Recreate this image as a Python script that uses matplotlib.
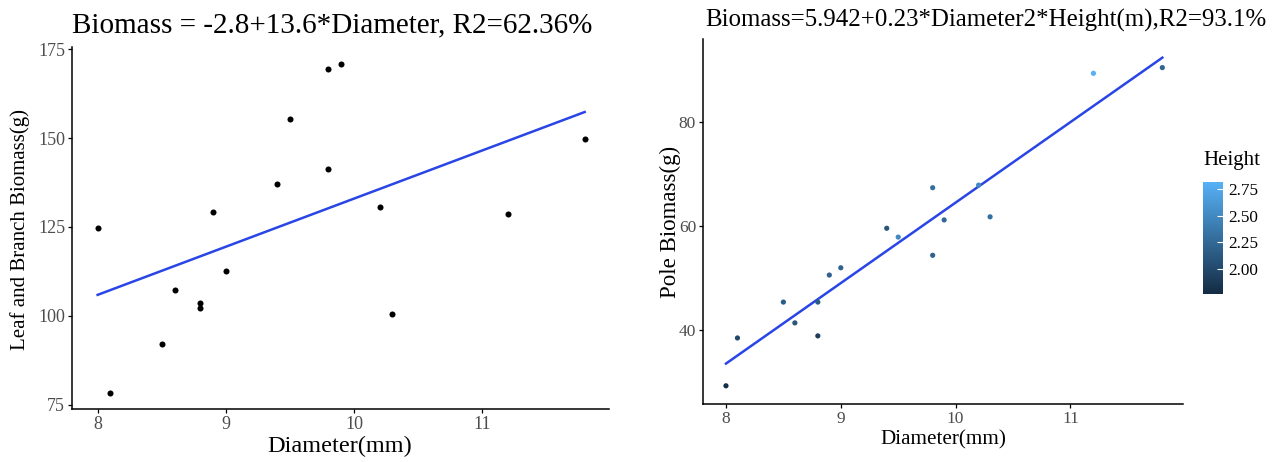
import numpy as np
import matplotlib
matplotlib.use("Agg")
import matplotlib.pyplot as plt
from matplotlib.colors import LinearSegmentedColormap

plt.rcParams['font.family'] = ['Liberation Serif', 'DejaVu Serif']

# --- left panel: leaf and branch biomass ---
diam_left = [8.0, 8.1, 8.5, 8.6, 8.8, 8.8, 8.9, 9.0, 9.4, 9.5, 9.8, 9.9, 9.8, 10.2, 10.3, 11.2, 11.8]
leaf_biomass = [124.7, 78.2, 92.0, 107.2, 103.6, 102.1, 129.1, 112.6, 137.1, 155.3,
                169.3, 170.9, 141.4, 130.6, 100.6, 128.7, 149.7]

# --- right panel: pole biomass coloured by height ---
diam_right = [8.0, 8.1, 8.5, 8.6, 8.8, 8.8, 8.9, 9.0, 9.4, 9.5, 9.8, 9.8, 9.9, 10.2, 10.3, 11.2, 11.8]
pole_biomass = [29.3, 38.5, 45.4, 41.4, 38.9, 45.4, 50.6, 52.0, 59.6, 57.9,
                67.4, 54.4, 61.2, 67.9, 61.8, 89.4, 90.5]
height = [1.80, 2.00, 2.15, 2.10, 1.92, 2.15, 2.20, 2.20, 2.10, 2.50,
          2.30, 2.20, 2.25, 2.50, 2.30, 2.81, 2.22]

title_left = "Biomass = -2.8+13.6*Diameter, R2=62.36%"
title_right = "Biomass=5.942+0.23*Diameter2*Height(m),R2=93.1%"
cbar_ticks = [2.00, 2.25, 2.50, 2.75]

line_col = "#2A45E6"
tick_col = "#4D4D4D"
cmap = LinearSegmentedColormap.from_list("gg", ["#132B43", "#56B1F7"])

W, H = 1274, 462
fig = plt.figure(figsize=(W / 100, H / 100), dpi=100)


def px_axes(l, t, r, b):
    return fig.add_axes([l / W, 1 - b / H, (r - l) / W, (b - t) / H])


def ftext(x, y, s, **kw):
    return fig.text(x / W, 1 - y / H, s, **kw)


def style(ax, fs):
    for s in ['top', 'right']:
        ax.spines[s].set_visible(False)
    for s in ['left', 'bottom']:
        ax.spines[s].set_linewidth(1.1)
    ax.tick_params(colors='black', labelcolor=tick_col, labelsize=fs,
                   length=3, width=0.9, pad=2)


def fit_line(ax, x, y):
    k, b = np.polyfit(x, y, 1)
    xs = np.array([min(x), max(x)])
    ax.plot(xs, k * xs + b, color=line_col, lw=1.8, zorder=2)


# left panel
ax1 = px_axes(72, 47, 609, 409)
ax1.scatter(diam_left, leaf_biomass, s=19, color='black', zorder=3, linewidths=0)
fit_line(ax1, diam_left, leaf_biomass)
ax1.set_xlim(7.80, 11.99)
ax1.set_ylim(73.8, 175.6)
ax1.set_xticks([8, 9, 10, 11])
ax1.set_yticks([75, 100, 125, 150, 175])
style(ax1, 13)
ftext(72, 32, title_left, fontsize=21, ha='left', va='baseline')
ftext(340, 446, "Diameter(mm)", fontsize=17.5, ha='center', va='center')
ftext(20, 229, "Leaf and Branch Biomass(g)", fontsize=15, ha='center',
      va='center', rotation=90)

# right panel
ax2 = px_axes(703, 39, 1183, 404)
sc = ax2.scatter(diam_right, pole_biomass, s=14, c=height, cmap=cmap,
                 vmin=1.767, vmax=2.815, zorder=3, linewidths=0)
fit_line(ax2, diam_right, pole_biomass)
ax2.set_xlim(7.80, 11.98)
ax2.set_ylim(25.8, 96.0)
ax2.set_xticks([8, 9, 10, 11])
ax2.set_yticks([40, 60, 80])
style(ax2, 12.5)
ftext(705, 27, title_right, fontsize=17.9, ha='left', va='baseline')
ftext(943, 440, "Diameter(mm)", fontsize=15.2, ha='center', va='center')
ftext(670, 222, "Pole Biomass(g)", fontsize=16.5, ha='center',
      va='center', rotation=90)

# colourbar legend
cax = px_axes(1203, 182, 1223, 294)
cb = fig.colorbar(sc, cax=cax, ticks=cbar_ticks)
cb.outline.set_visible(False)
cb.ax.tick_params(length=4, color='white', width=0.8, labelsize=12.3,
                  labelcolor='black', direction='in', pad=4)
cb.ax.set_yticklabels([f"{t:.2f}" for t in cbar_ticks])
ftext(1203, 161, "Height", fontsize=15, ha='left', va='center')

fig.savefig("out.png", dpi=100)
